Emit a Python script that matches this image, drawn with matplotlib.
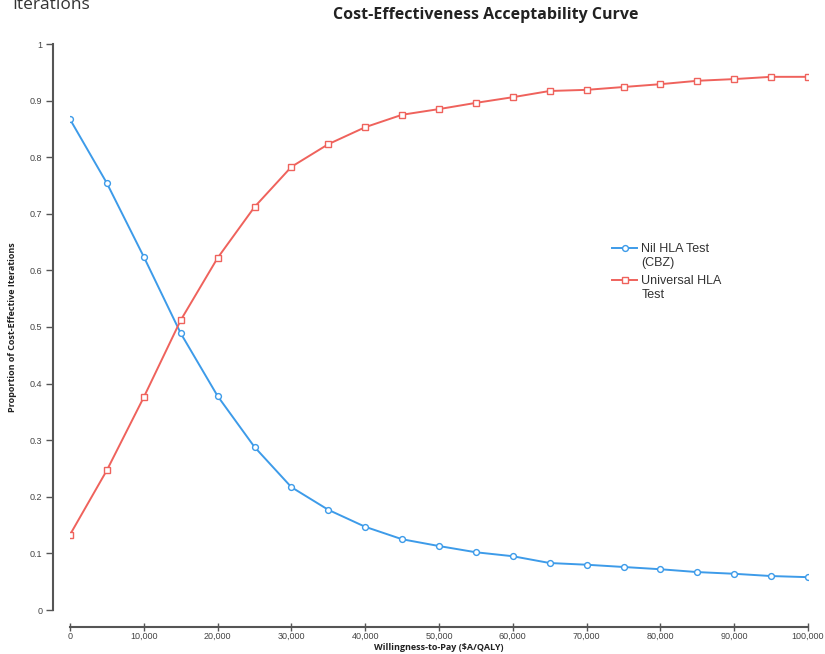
import numpy as np
import matplotlib
matplotlib.use("Agg")
import matplotlib.pyplot as plt
from matplotlib.ticker import FuncFormatter

wtp = list(range(0, 100001, 5000))
nil_hla = [0.867, 0.754, 0.624, 0.489, 0.378, 0.288, 0.217, 0.177, 0.147, 0.125, 0.113,
           0.102, 0.095, 0.083, 0.080, 0.076, 0.072, 0.067, 0.064, 0.060, 0.058]
universal = [0.133, 0.247, 0.376, 0.512, 0.622, 0.712, 0.783, 0.823, 0.853, 0.875, 0.885,
             0.896, 0.906, 0.917, 0.919, 0.924, 0.929, 0.935, 0.938, 0.942, 0.942]
# legend labels: first line goes in the legend, the second line sits below it
labels = [("Nil HLA Test", "(CBZ)"), ("Universal HLA", "Test")]

BLUE = "#3d9be9"
RED = "#ef625c"
GREY = "#555555"
SANS = ["Liberation Sans", "DejaVu Sans"]
BOLD = ["Open Sans", "DejaVu Sans"]

W, H = 825, 654
fig = plt.figure(figsize=(W / 100, H / 100), dpi=100)
ax = fig.add_axes([70 / W, 1 - 610 / H, (808 - 70) / W, (610 - 44) / H])

ax.plot(wtp, nil_hla, color=BLUE, lw=1.4, marker="o", ms=4.2, mfc="white",
        mec=BLUE, mew=1.0, label=labels[0][0])
ax.plot(wtp, universal, color=RED, lw=1.4, marker="s", ms=4.0, mfc="white",
        mec=RED, mew=1.0, label=labels[1][0])

ax.set_xlim(0, 100000)
ax.set_ylim(0, 1)
ax.set_xticks(range(0, 100001, 10000))
ax.set_yticks(np.arange(0, 1.01, 0.1))
ax.xaxis.set_major_formatter(FuncFormatter(lambda v, p: f"{int(v):,}"))
ax.yaxis.set_major_formatter(FuncFormatter(lambda v, p: "0" if v == 0 else ("1" if v == 1 else f"{v:.1f}")))

for s in ("top", "right"):
    ax.spines[s].set_visible(False)
ax.spines["left"].set_position(("outward", 12))
ax.spines["bottom"].set_position(("outward", 12))
for s in ("left", "bottom"):
    ax.spines[s].set_color(GREY)
    ax.spines[s].set_linewidth(1.5)

ax.tick_params(axis="y", direction="out", length=5, width=1, color=GREY,
               labelcolor="#444444", labelsize=6.5, pad=3)
ax.tick_params(axis="x", direction="inout", length=6, width=1, color=GREY,
               labelcolor="#444444", labelsize=6.5, pad=1)
for t in ax.get_xticklabels() + ax.get_yticklabels():
    t.set_family(SANS)

# axis titles placed in figure pixels, as in the reference
fig.text(439 / W, 1 - 648 / H, "Willingness-to-Pay ($A/QALY)", ha="center", va="center",
         fontsize=6.5, fontweight="bold", family=BOLD, color="#222222")
fig.text(13 / W, 1 - 327 / H, "Proportion of Cost-Effective Iterations", ha="center",
         va="center", rotation=90, fontsize=6.5, fontweight="bold", family=BOLD,
         color="#222222")

fig.text(485.5 / W, 1 - 15 / H, "Cost-Effectiveness Acceptability Curve", ha="center",
         va="center", fontsize=11.5, fontweight="bold", family=BOLD, color="#222222")
fig.text(12 / W, 1 - 9 / H, "Iterations", ha="left", va="baseline", fontsize=12.5,
         family=BOLD, color="#333333")

leg = fig.legend(loc="upper left", bbox_to_anchor=(612 / W, 1 - 243 / H), frameon=False,
                 borderpad=0, borderaxespad=0, handlelength=2.0, handletextpad=0.35,
                 labelspacing=1.6, prop={"family": SANS, "size": 9})
fig.canvas.draw()
for t, (_, second) in zip(leg.get_texts(), labels):
    t.set_color("#333333")
    bb = t.get_window_extent()
    fig.text(bb.x0 / W, (bb.y0 - 14) / H, second, ha="left", va="bottom",
             fontsize=9, family=SANS, color="#333333")

fig.savefig("out.png", dpi=100, facecolor="white")
